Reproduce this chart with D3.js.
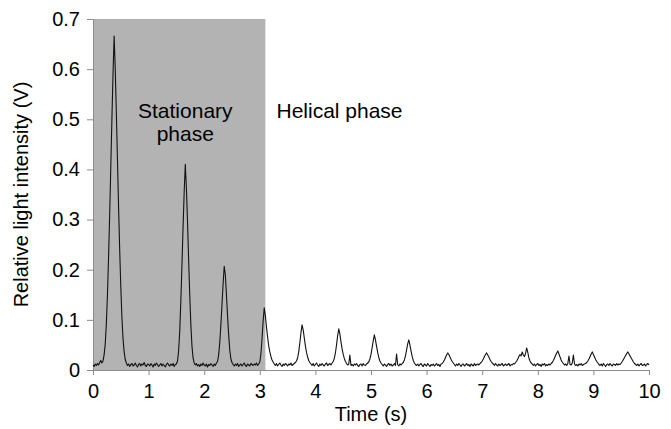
<!DOCTYPE html>
<html>
<head>
<meta charset="utf-8">
<script src="https://cdn.jsdelivr.net/npm/d3@7"></script>
<style>
	body { margin: 0; background: #fff; }
	svg { font-family: "Liberation Sans", Arial, sans-serif; }
</style>
</head>
<body>
<svg></svg>
<script>
const svgWidth = 671;
const svgHeight = 429;
const margin = {top: 19, right: 22, bottom: 59, left: 93};

// recorded trace: one sample every 0.02 s, values in mV
const sampleStep = 0.02;
const traceMv = [
	10, 7, 12, 9, 13, 10, 15, 19, 14, 18, 30, 52, 92, 150, 225, 310, 405, 500, 590, 666, 600, 512, 420, 325, 240,
	165, 105, 62, 36, 21, 14, 9, 12, 7, 11, 13, 8, 10, 14, 9, 6, 11, 13, 8, 12, 10, 15, 9, 7, 12,
	11, 8, 13, 10, 6, 12, 9, 14, 11, 7, 10, 13, 8, 12, 9, 6, 11, 14, 10, 8, 12, 9, 13, 7, 11,
	12, 18, 38, 78, 138, 210, 285, 355, 410, 362, 295, 220, 150, 90, 48, 24, 14, 10, 13, 8, 11, 7, 12, 9, 14,
	10, 8, 12, 6, 11, 9, 13, 10, 7, 12, 9, 14, 17, 30, 55, 90, 130, 172, 207, 190, 150, 108, 70, 40, 22,
	15, 11, 8, 12, 9, 13, 7, 10, 12, 8, 11, 14, 9, 7, 12, 10, 8, 13, 11, 9, 12, 10, 14, 9, 12,
	16, 32, 62, 98, 124, 108, 86, 66, 48, 36, 27, 20, 16, 12, 9, 13, 8, 11, 14, 10, 7, 12, 9, 13, 11,
	8, 12, 10, 14, 9, 11, 13, 15, 18, 24, 36, 54, 74, 90, 80, 64, 48, 35, 26, 19, 15, 12, 9, 13, 8,
	11, 14, 10, 7, 12, 9, 13, 10, 8, 12, 14, 9, 11, 13, 10, 14, 17, 23, 34, 50, 68, 82, 72, 56, 42,
	31, 23, 17, 13, 10, 12, 30, 9, 11, 8, 12, 10, 13, 9, 7, 11, 12, 8, 13, 10, 9, 12, 14, 16, 22,
	31, 44, 58, 70, 60, 47, 35, 25, 18, 14, 11, 8, 12, 10, 7, 11, 13, 9, 12, 8, 10, 13, 9, 32, 11,
	8, 12, 10, 13, 15, 20, 28, 40, 52, 60, 50, 38, 27, 19, 14, 11, 9, 12, 8, 11, 13, 9, 7, 12, 10,
	8, 13, 10, 7, 11, 9, 12, 8, 10, 13, 9, 11, 7, 12, 13, 16, 20, 25, 30, 34, 31, 26, 21, 17, 14,
	11, 8, 12, 9, 13, 10, 7, 11, 12, 8, 10, 13, 9, 11, 7, 12, 10, 8, 13, 9, 11, 12, 10, 13, 15,
	18, 22, 27, 31, 34, 30, 26, 21, 17, 14, 12, 9, 13, 10, 8, 12, 9, 11, 13, 8, 10, 12, 9, 11, 13,
	8, 11, 10, 13, 12, 15, 18, 22, 27, 31, 28, 36, 30, 27, 33, 44, 35, 24, 18, 14, 12, 9, 12, 8, 11,
	13, 9, 11, 7, 12, 10, 13, 8, 11, 9, 12, 10, 13, 15, 19, 24, 29, 34, 38, 32, 26, 20, 16, 13, 10,
	12, 9, 13, 28, 11, 10, 14, 30, 12, 9, 11, 8, 12, 10, 13, 9, 11, 12, 13, 15, 18, 22, 27, 32, 36,
	31, 26, 21, 17, 14, 11, 9, 12, 8, 13, 10, 7, 11, 12, 9, 13, 10, 8, 12, 11, 9, 13, 10, 12, 11,
	14, 17, 21, 25, 29, 33, 36, 32, 28, 24, 20, 16, 13, 11, 9, 12, 8, 11, 13, 9, 10, 12, 8, 11, 13,
	10
];

const xTicks = [0, 1, 2, 3, 4, 5, 6, 7, 8, 9, 10];
const yTicks = [0, 0.1, 0.2, 0.3, 0.4, 0.5, 0.6, 0.7];
const stationaryEnd = 3.1;
const phaseLabels = [
	{lines: ["Stationary", "phase"], t: 1.66, anchor: "middle"},
	{lines: ["Helical phase"], t: 3.3, anchor: "start"}
];

const traceData = traceMv.map((mv, i) => ({t: i * sampleStep, v: mv / 1000}));

const svg = d3.select("svg")
				.attr("width", svgWidth)
				.attr("height", svgHeight);

let xScale = d3.scaleLinear()
				.domain([0, 10])
				.range([margin.left, svgWidth - margin.right]);
let yScale = d3.scaleLinear()
				.domain([0, 0.7])
				.range([svgHeight - margin.bottom, margin.top]);

// Shaded stationary phase
svg
	.append("rect")
	.attr("x", xScale(0))
	.attr("y", yScale(0.7))
	.attr("width", xScale(stationaryEnd) - xScale(0))
	.attr("height", yScale(0) - yScale(0.7))
	.attr("fill", "#b3b3b3");

// Axes
let xAxis = d3.axisBottom(xScale)
				.tickValues(xTicks)
				.tickFormat(d3.format("d"))
				.tickSize(5)
				.tickPadding(9)
				.tickSizeOuter(0);
let yAxis = d3.axisLeft(yScale)
				.tickValues(yTicks)
				.tickFormat(d => d === 0 ? "0" : d3.format(".1f")(d))
				.tickSize(6)
				.tickPadding(7)
				.tickSizeOuter(0);

let gx = svg
	.append("g")
	.attr("transform", `translate(0, ${yScale(0)})`)
	.call(xAxis);
let gy = svg
	.append("g")
	.attr("transform", `translate(${xScale(0)}, 0)`)
	.call(yAxis);

[gx, gy].forEach(g => {
	g.select(".domain").attr("stroke", "#8c8c8c");
	g.selectAll(".tick line").attr("stroke", "#8c8c8c");
	g.selectAll(".tick text")
		.attr("fill", "#000")
		.attr("font-size", "20px")
		.attr("font-family", "Liberation Sans, Arial, sans-serif");
});

// Signal trace
let line = d3.line()
				.x(d => xScale(d.t))
				.y(d => yScale(d.v));

svg
	.append("path")
	.datum(traceData)
	.attr("d", line)
	.attr("fill", "none")
	.attr("stroke", "#111")
	.attr("stroke-width", 1.1)
	.attr("stroke-linejoin", "round");

// Phase labels
phaseLabels.forEach(p => {
	let txt = svg
		.append("text")
		.attr("x", xScale(p.t))
		.attr("y", 118)
		.attr("font-size", "21px")
		.attr("text-anchor", p.anchor);
	p.lines.forEach((s, i) => {
		txt.append("tspan")
			.attr("x", xScale(p.t))
			.attr("dy", i === 0 ? 0 : "1.1em")
			.text(s);
	});
});

// Axes labels
svg
	.append("text")
	.text("Time (s)")
	.attr("x", (xScale(0) + xScale(10)) / 2)
	.attr("y", 421)
	.attr("font-size", "20px")
	.attr("text-anchor", "middle");

svg
	.append("text")
	.text("Relative light intensity (V)")
	.attr("transform", "rotate(-90)")
	.attr("x", -(yScale(0) + yScale(0.7)) / 2)
	.attr("y", 28)
	.attr("font-size", "20px")
	.attr("text-anchor", "middle");
</script>
</body>
</html>
